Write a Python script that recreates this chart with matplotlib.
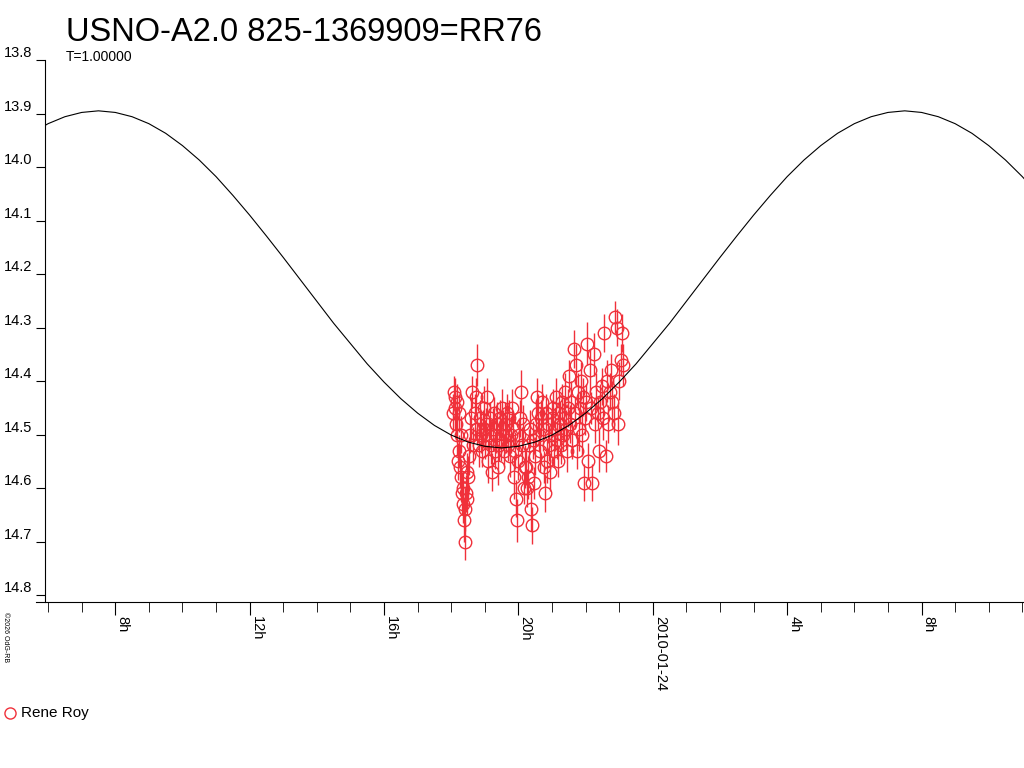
import matplotlib
matplotlib.use('Agg')
import matplotlib.pyplot as plt
from matplotlib.lines import Line2D
from matplotlib.patches import Rectangle

plt.rcParams['font.family'] = ['Liberation Sans', 'DejaVu Sans']

# hours counted from 2010-01-23 0h
obs_hours = [18.05, 18.08, 18.10, 18.12, 18.14, 18.16, 18.18, 18.20, 18.22, 18.24,
             18.26, 18.28, 18.30, 18.32, 18.34, 18.36, 18.38, 18.40, 18.42, 18.44,
             18.46, 18.48, 18.50, 18.52, 18.55, 18.58, 18.62, 18.66, 18.77, 18.72,
             18.75, 18.78, 18.82, 18.85, 18.88, 18.91, 18.94, 18.97, 19.00, 19.03,
             19.06, 19.09, 19.12, 19.15, 19.18, 19.21, 19.24, 19.27, 19.30, 19.33,
             19.36, 19.39, 19.42, 19.45, 19.48, 19.51, 19.54, 19.57, 19.60, 19.63,
             19.66, 19.69, 19.72, 19.75, 19.78, 19.81, 19.84, 19.87, 19.90, 19.93,
             19.96, 19.99, 20.02, 20.05, 20.08, 20.11, 20.14, 20.17, 20.20, 20.23,
             20.26, 20.29, 20.32, 20.35, 20.38, 20.41, 20.44, 20.47, 20.50, 20.53,
             20.56, 20.59, 20.62, 20.65, 20.68, 20.71, 20.74, 20.77, 20.80, 20.83,
             20.86, 20.89, 20.92, 20.95, 20.98, 21.01, 21.04, 21.07, 21.10, 21.13,
             21.16, 21.19, 21.22, 21.25, 21.28, 21.31, 21.34, 21.37, 21.40, 21.43,
             21.46, 21.49, 21.52, 21.55, 21.58, 21.61, 21.64, 21.67, 21.70, 21.73,
             21.76, 21.79, 21.82, 21.85, 21.88, 21.91, 21.94, 21.97, 22.00, 22.04,
             22.08, 22.12, 22.16, 22.20, 22.24, 22.28, 22.32, 22.36, 22.40, 22.44,
             22.48, 22.52, 22.56, 22.60, 22.64, 22.68, 22.72, 22.76, 22.80, 22.84,
             22.88, 22.92, 22.96, 23.00, 23.04, 23.08, 23.12]
obs_mags = [14.46, 14.42, 14.45, 14.43, 14.48, 14.44, 14.50, 14.55, 14.53, 14.46,
            14.56, 14.50, 14.58, 14.61, 14.63, 14.60, 14.66, 14.70, 14.64, 14.61,
            14.57, 14.62, 14.58, 14.54, 14.50, 14.47, 14.42, 14.52, 14.37, 14.46,
            14.43, 14.49, 14.52, 14.47, 14.50, 14.53, 14.49, 14.45, 14.51, 14.48,
            14.43, 14.55, 14.50, 14.47, 14.52, 14.57, 14.49, 14.46, 14.53, 14.50,
            14.48, 14.56, 14.52, 14.47, 14.51, 14.45, 14.49, 14.53, 14.48, 14.50,
            14.46, 14.52, 14.47, 14.54, 14.50, 14.45, 14.49, 14.58, 14.53, 14.62,
            14.66, 14.55, 14.50, 14.47, 14.42, 14.52, 14.48, 14.60, 14.56, 14.56,
            14.60, 14.58, 14.52, 14.49, 14.64, 14.67, 14.51, 14.59, 14.54, 14.48,
            14.43, 14.46, 14.50, 14.53, 14.47, 14.44, 14.49, 14.56, 14.61, 14.46,
            14.55, 14.48, 14.52, 14.57, 14.50, 14.47, 14.45, 14.53, 14.49, 14.43,
            14.51, 14.55, 14.46, 14.48, 14.52, 14.44, 14.50, 14.47, 14.42, 14.49,
            14.53, 14.45, 14.39, 14.48, 14.44, 14.51, 14.34, 14.46, 14.37, 14.53,
            14.42, 14.49, 14.45, 14.40, 14.50, 14.43, 14.59, 14.47, 14.44, 14.33,
            14.55, 14.38, 14.45, 14.59, 14.35, 14.48, 14.42, 14.46, 14.53, 14.44,
            14.41, 14.47, 14.31, 14.54, 14.40, 14.48, 14.42, 14.38, 14.44, 14.46,
            14.28, 14.30, 14.48, 14.40, 14.36, 14.31, 14.37]
obs_errs = [0.035, 0.030, 0.040, 0.035, 0.030, 0.035, 0.040, 0.035, 0.030, 0.035,
            0.040, 0.035, 0.035, 0.040, 0.035, 0.030, 0.040, 0.035, 0.040, 0.035,
            0.035, 0.030, 0.040, 0.035, 0.035, 0.040, 0.030, 0.035, 0.040, 0.035,
            0.035, 0.030, 0.040, 0.035, 0.035, 0.030, 0.035, 0.040, 0.035, 0.030,
            0.035, 0.040, 0.035, 0.030, 0.035, 0.035, 0.040, 0.030, 0.035, 0.035,
            0.040, 0.035, 0.030, 0.035, 0.040, 0.035, 0.035, 0.030, 0.040, 0.035,
            0.035, 0.030, 0.035, 0.040, 0.035, 0.035, 0.030, 0.040, 0.035, 0.035,
            0.040, 0.035, 0.030, 0.035, 0.040, 0.035, 0.035, 0.030, 0.040, 0.035,
            0.035, 0.040, 0.030, 0.035, 0.040, 0.035, 0.035, 0.030, 0.035, 0.040,
            0.035, 0.035, 0.030, 0.040, 0.035, 0.035, 0.040, 0.030, 0.035, 0.035,
            0.040, 0.035, 0.030, 0.035, 0.040, 0.035, 0.035, 0.030, 0.040, 0.035,
            0.035, 0.030, 0.035, 0.040, 0.035, 0.035, 0.030, 0.040, 0.035, 0.035,
            0.040, 0.035, 0.030, 0.035, 0.040, 0.035, 0.035, 0.030, 0.040, 0.035,
            0.035, 0.040, 0.030, 0.035, 0.040, 0.035, 0.035, 0.030, 0.035, 0.040,
            0.035, 0.040, 0.030, 0.035, 0.040, 0.035, 0.035, 0.030, 0.040, 0.035,
            0.035, 0.040, 0.035, 0.030, 0.040, 0.035, 0.035, 0.030, 0.040, 0.035,
            0.030, 0.035, 0.040, 0.035, 0.030, 0.035, 0.040]

# fitted light curve, read every half hour
fit_hours = [5.5, 6.0, 6.5, 7.0, 7.5, 8.0, 8.5, 9.0, 9.5, 10.0, 10.5, 11.0, 11.5,
             12.0, 12.5, 13.0, 13.5, 14.0, 14.5, 15.0, 15.5, 16.0, 16.5, 17.0,
             17.5, 18.0, 18.5, 19.0, 19.5, 20.0, 20.5, 21.0, 21.5, 22.0, 22.5,
             23.0, 23.5, 24.0, 24.5, 25.0, 25.5, 26.0, 26.5, 27.0, 27.5, 28.0,
             28.5, 29.0, 29.5, 30.0, 30.5, 31.0, 31.5, 32.0, 32.5, 33.0, 33.5,
             34.0, 34.5, 35.0, 35.5]
fit_mags = [13.937, 13.919, 13.906, 13.898, 13.895, 13.898, 13.906, 13.919, 13.937,
            13.960, 13.987, 14.018, 14.053, 14.090, 14.129, 14.169, 14.210, 14.251,
            14.292, 14.330, 14.368, 14.402, 14.433, 14.460, 14.483, 14.501, 14.514,
            14.522, 14.525, 14.522, 14.514, 14.501, 14.483, 14.460, 14.433, 14.402,
            14.368, 14.330, 14.292, 14.251, 14.210, 14.169, 14.129, 14.090, 14.053,
            14.018, 13.987, 13.960, 13.937, 13.919, 13.906, 13.898, 13.895, 13.898,
            13.906, 13.919, 13.937, 13.960, 13.987, 14.018, 14.053]

major_hours = [8, 12, 16, 20, 24, 28, 32]
major_labels = ['8h', '12h', '16h', '20h', '2010-01-24', '4h', '8h']
minor_hours = list(range(6, 36))
mag_ticks = [13.8, 13.9, 14.0, 14.1, 14.2, 14.3, 14.4, 14.5, 14.6, 14.7, 14.8]

red = '#f0303a'
y_axis_at = 5.91

fig = plt.figure(figsize=(10.24, 7.68), dpi=100)
ax = fig.add_axes([36 / 1024, 1 - 602 / 768, 988 / 1024, 542 / 768])

ax.errorbar(obs_hours, obs_mags, yerr=obs_errs, fmt='o', mfc='none', mec=red,
            ecolor=red, ms=9, mew=1, elinewidth=1, capsize=0)
curve, = ax.plot(fit_hours, fit_mags, color='black', lw=0.8, zorder=5)
clip = Rectangle((y_axis_at, 13.0), 40, 3, transform=ax.transData)
curve.set_clip_path(clip)

ax.set_xlim(5.64, 35.05)
ax.set_ylim(14.813, 13.8)

for s in ['top', 'right']:
    ax.spines[s].set_visible(False)
ax.spines['left'].set_position(('data', y_axis_at))

ax.set_yticks(mag_ticks)
ax.set_yticklabels(['%.1f' % v for v in mag_ticks])
for lab in ax.get_yticklabels():
    lab.set_va('bottom')
ax.tick_params(axis='y', length=6.5, pad=3, labelsize=10.5, direction='out')

ax.set_xticks(major_hours)
ax.set_xticklabels(major_labels, rotation=-90, ha='left', va='top')
ax.set_xticks(minor_hours, minor=True)
ax.tick_params(axis='x', which='major', length=9, pad=1, labelsize=10.5)
ax.tick_params(axis='x', which='minor', length=7)

fig.text(66 / 1024, 1 - 41 / 768, 'USNO-A2.0 825-1369909=RR76', fontsize=23.5,
         va='baseline', ha='left')
fig.text(66 / 1024, 1 - 61 / 768, 'T=1.00000', fontsize=10, va='baseline', ha='left')
fig.text(2 / 1024, 1 - 612 / 768, '©2026 OdG-RB', fontsize=5, rotation=-90,
         ha='left', va='top')

fig.add_artist(Line2D([10 / 1024], [1 - 713 / 768], marker='o', mfc='none',
                      mec=red, ms=8, mew=1, transform=fig.transFigure))
fig.text(21 / 1024, 1 - 713 / 768, 'Rene Roy', fontsize=11, va='center', ha='left')

fig.savefig('out.png', dpi=100)
